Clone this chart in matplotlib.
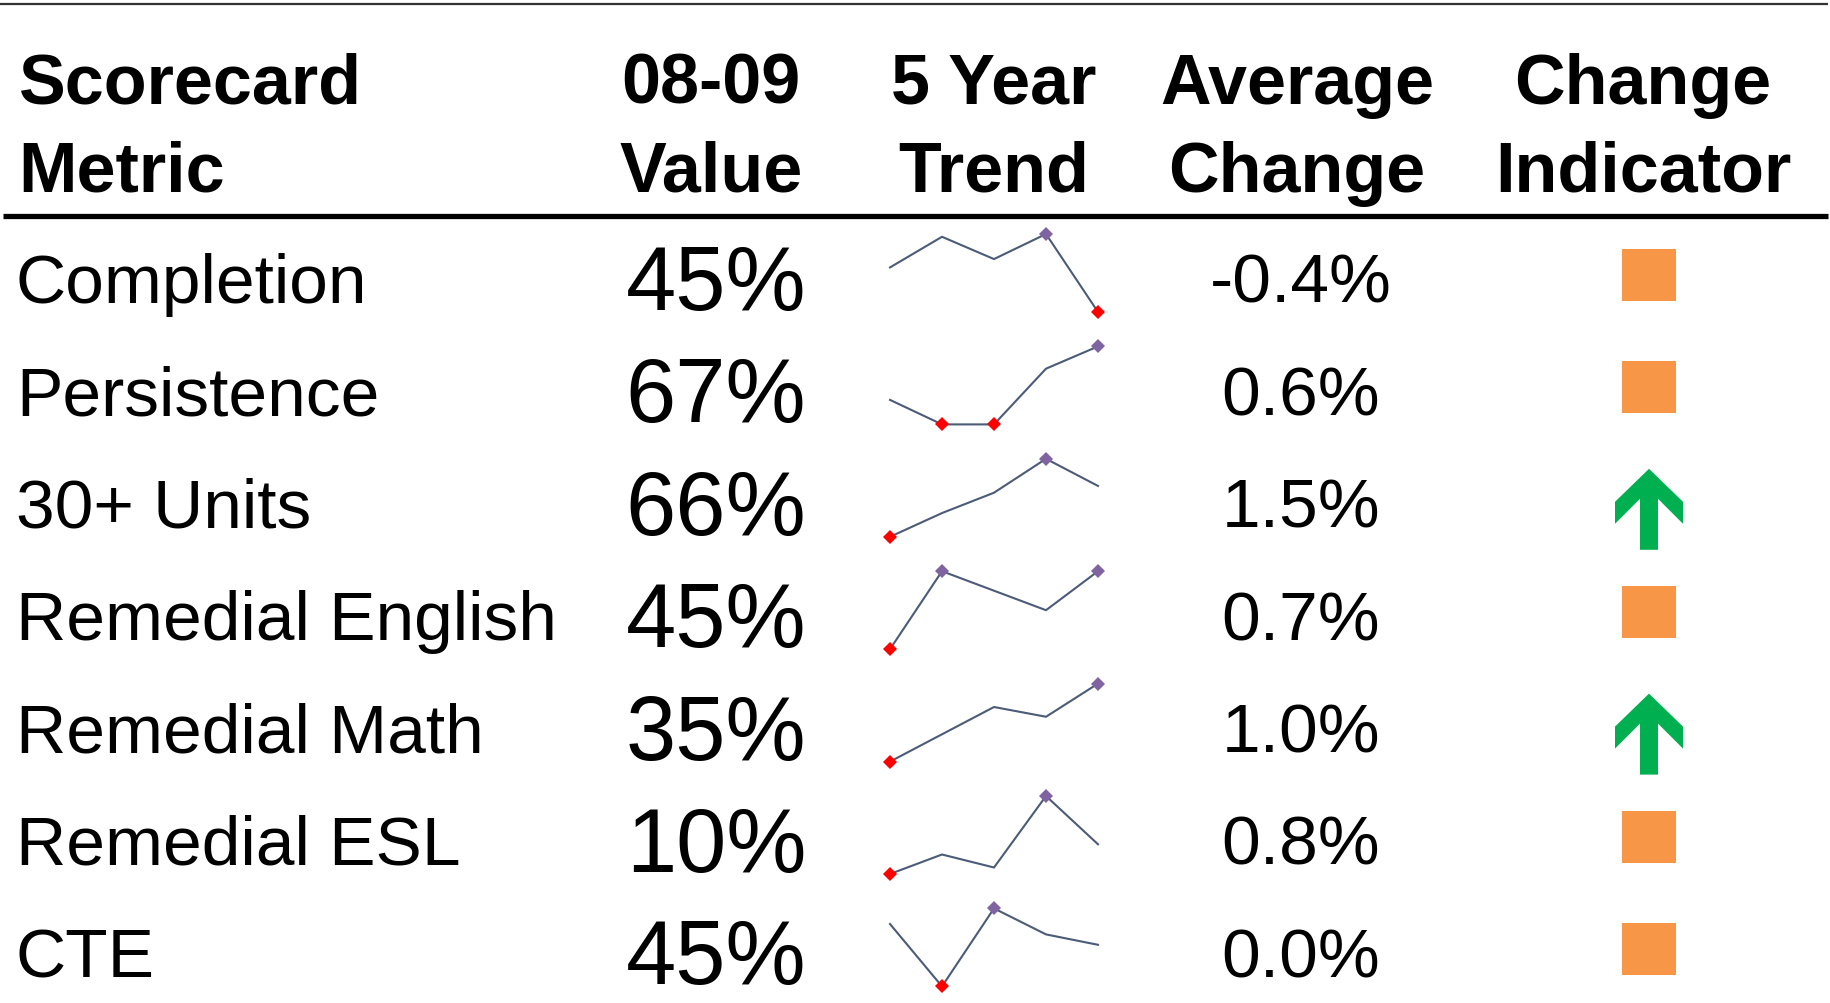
import matplotlib
matplotlib.use("Agg")
import matplotlib.pyplot as plt
from matplotlib.patches import Rectangle, Polygon

# ========= data =========

metrics = ["Completion", "Persistence", "30+ Units", "Remedial English",
           "Remedial Math", "Remedial ESL", "CTE"]
values_0809 = ["45%", "67%", "66%", "45%", "35%", "10%", "45%"]
avg_change = ["-0.4%", "0.6%", "1.5%", "0.7%", "1.0%", "0.8%", "0.0%"]
indicators = ["flat", "flat", "up", "flat", "up", "flat", "flat"]

# five-year trend, 04-05 .. 08-09
trend_completion = [46.6, 47.7, 46.9, 47.8, 45.0]
trend_persistence = [64.6, 63.5, 63.5, 66.0, 67.0]
trend_units = [60.0, 62.8, 65.2, 69.2, 66.0]
trend_rem_english = [42.2, 45.0, 44.3, 43.6, 45.0]
trend_rem_math = [31.0, 32.4, 33.8, 33.3, 35.0]
trend_rem_esl = [6.8, 8.9, 7.5, 15.2, 10.0]
trend_cte = [45.8, 43.4, 46.4, 45.4, 45.0]
trends = [trend_completion, trend_persistence, trend_units, trend_rem_english,
          trend_rem_math, trend_rem_esl, trend_cte]

header_top = ["Scorecard", "08-09", "5 Year", "Average", "Change"]
header_bottom = ["Metric", "Value", "Trend", "Change", "Indicator"]

# ========= layout (pixels) =========

W, H = 1831, 1004
FONT = "Liberation Sans"
LINE_COLOR = "#4B5B78"
HIGH_COLOR = "#8064A2"
LOW_COLOR = "#FF0000"
ORANGE = "#F79646"
GREEN = "#00B050"

row_y0, row_step = 277, 112.4
header_x = [18, 711, 994, 1297, 1643]
value_x, change_x, ind_x = 716, 1301, 1649
spark_left, spark_right = 890, 1098

fig = plt.figure(figsize=(W / 100, H / 100), dpi=100)
ax = fig.add_axes([0, 0, 1, 1])
ax.set_xlim(0, W)
ax.set_ylim(H, 0)
ax.axis("off")

# rules
ax.plot([0, 1828], [5, 5], color="#333333", lw=1.6, solid_capstyle="butt")
ax.plot([3, 1828], [217, 217], color="black", lw=3.8, solid_capstyle="butt")

# header
for i, (t1, t2) in enumerate(zip(header_top, header_bottom)):
    ha = "left" if i == 0 else "center"
    ax.text(header_x[i], 104, t1, ha=ha, va="baseline", fontsize=50.5,
            fontweight="bold", family=FONT)
    ax.text(header_x[i], 192, t2, ha=ha, va="baseline", fontsize=50.5,
            fontweight="bold", family=FONT)


def draw_arrow(cx, top):
    # up arrow icon, 68 x 81 px
    pts = [(0, 0), (34, 33), (34, 55), (9, 30), (9, 81), (-9, 81),
           (-9, 30), (-34, 55), (-34, 33)]
    ax.add_patch(Polygon([(cx + x, top + y) for x, y in pts],
                         closed=True, color=GREEN, lw=0))


for i, name in enumerate(metrics):
    yc = row_y0 + i * row_step
    ax.text(16, yc + 26, name, ha="left", va="baseline", fontsize=50,
            family=FONT)
    ax.text(value_x, yc + 33, values_0809[i], ha="center", va="baseline",
            fontsize=65, family=FONT)
    ax.text(change_x, yc + 26, avg_change[i], ha="center", va="baseline",
            fontsize=50, family=FONT)

    # indicator
    if indicators[i] == "up":
        draw_arrow(ind_x, yc - 32)
    else:
        ax.add_patch(Rectangle((ind_x - 27, yc - 27), 54, 52,
                               color=ORANGE, lw=0))

    # sparkline
    data = trends[i]
    top, bottom = yc - 42, yc + 36
    sax = fig.add_axes([spark_left / W, 1 - bottom / H,
                        (spark_right - spark_left) / W, (bottom - top) / H])
    xs = list(range(len(data)))
    sax.plot(xs, data, color=LINE_COLOR, lw=1.5, clip_on=False)
    hi, lo = max(data), min(data)
    for x, v in zip(xs, data):
        if v == hi:
            sax.plot(x, v, "D", color=HIGH_COLOR, ms=7, mew=0, clip_on=False)
        elif v == lo:
            sax.plot(x, v, "D", color=LOW_COLOR, ms=7, mew=0, clip_on=False)
    sax.set_xlim(0, len(data) - 1)
    sax.set_ylim(lo, hi)
    sax.axis("off")

fig.savefig("out.png", dpi=100)
